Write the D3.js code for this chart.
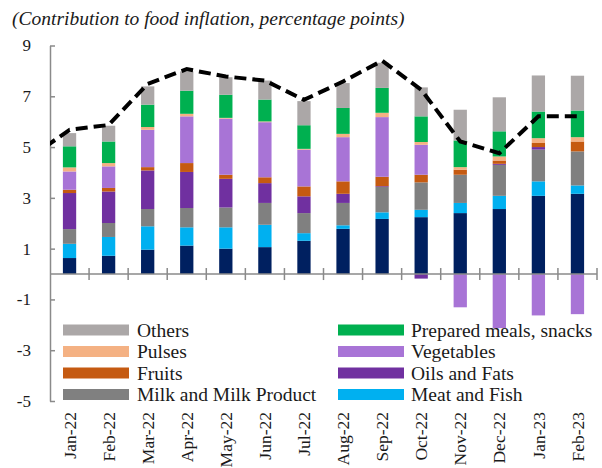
<!DOCTYPE html>
<meta charset="utf-8">
<style>
  body { margin: 0; background: #fff; }
  text { font-family: "Liberation Serif", "DejaVu Serif", serif; fill: #1a1a1a; }
</style>
<script src="https://d3js.org/d3.v7.min.js"></script>
<div id="my_dataviz"></div>
<script>

  // months on the x axis
  const months = ["Jan-22", "Feb-22", "Mar-22", "Apr-22", "May-22", "Jun-22", "Jul-22",
    "Aug-22", "Sep-22", "Oct-22", "Nov-22", "Dec-22", "Jan-23", "Feb-23"];

  // contributions, percentage points (stack order, bottom to top)
  const cereals    = [0.63, 0.72, 0.96, 1.12, 1.00, 1.06, 1.31, 1.78, 2.17, 2.24, 2.40, 2.56, 3.08, 3.16];
  const meatFish   = [0.56, 0.74, 0.92, 0.72, 0.84, 0.88, 0.30, 0.14, 0.26, 0.29, 0.40, 0.52, 0.57, 0.33];
  const milk       = [0.58, 0.55, 0.68, 0.76, 0.78, 0.86, 0.79, 0.88, 1.00, 1.08, 1.11, 1.22, 1.25, 1.34];
  const oilsFats   = [1.42, 1.24, 1.52, 1.42, 1.13, 0.78, 0.66, 0.36, 0.03, -0.18, 0.00, 0.04, 0.10, 0.00];
  const fruits     = [0.13, 0.14, 0.13, 0.35, 0.16, 0.23, 0.39, 0.49, 0.37, 0.30, 0.20, 0.13, 0.16, 0.39];
  const vegetables = [0.72, 0.85, 1.47, 1.84, 2.21, 2.17, 1.45, 1.74, 2.35, 1.18, -1.31, -2.13, -1.63, -1.58];
  const pulses     = [0.16, 0.13, 0.11, 0.10, 0.03, 0.03, 0.03, 0.13, 0.17, 0.11, 0.10, 0.16, 0.19, 0.17];
  const prepared   = [0.83, 0.85, 0.88, 0.91, 0.91, 0.86, 0.93, 1.02, 0.98, 1.01, 1.05, 0.99, 1.05, 1.05];
  const others     = [0.52, 0.62, 0.72, 0.76, 0.69, 0.75, 0.95, 0.98, 0.99, 1.14, 1.21, 1.34, 1.42, 1.37];

  // food inflation (dashed line); the line starts from Dec-21, cut off at the axis
  const inflationDec21 = 4.6;
  const inflation = [5.68, 5.87, 7.49, 8.07, 7.78, 7.62, 6.86, 7.58, 8.40, 7.26, 5.22, 4.76, 6.21, 6.21];

  const yTicks = [-5, -3, -1, 1, 3, 5, 7, 9];

  const seriesNames = ["Cereals", "Meat and Fish", "Milk and Milk Product", "Oils and Fats", "Fruits",
    "Vegetables", "Pulses", "Prepared meals, snacks", "Others"];
  const seriesValues = [cereals, meatFish, milk, oilsFats, fruits, vegetables, pulses, prepared, others];
  const colors = ["#002060", "#00B0F0", "#808080", "#7030A0", "#C55A11", "#A874D6", "#F4B183", "#00B050", "#ABA7A7"];

  // legend in two columns, as in the source (cereals is not listed)
  const legendLeft = ["Others", "Pulses", "Fruits", "Milk and Milk Product"];
  const legendRight = ["Prepared meals, snacks", "Vegetables", "Oils and Fats", "Meat and Fish"];

  const W = 602, H = 468;
  const svg = d3.select("#my_dataviz")
    .append("svg")
    .attr("width", W)
    .attr("height", H);

  const x = d3.scaleBand()
    .domain(months)
    .range([50, 597])
    .paddingInner(0.66)
    .paddingOuter(0.33);

  const y = d3.scaleLinear()
    .domain([-5, 9])
    .range([401, 45.5]);

  const color = d3.scaleOrdinal().domain(seriesNames).range(colors);

  // build rows for the stack
  const table = months.map((m, i) => {
    const row = { month: m };
    seriesNames.forEach((s, j) => { row[s] = seriesValues[j][i]; });
    return row;
  });

  const stacked = d3.stack()
    .keys(seriesNames)
    .offset(d3.stackOffsetDiverging)(table);

  // title
  svg.append("text")
    .attr("x", 12)
    .attr("y", 25)
    .style("font-style", "italic")
    .style("font-size", "19.5px")
    .text("(Contribution to food inflation, percentage points)");

  // bars
  svg.append("g")
    .selectAll("g")
    .data(stacked)
    .join("g")
    .attr("fill", d => color(d.key))
    .selectAll("rect")
    .data(d => d)
    .join("rect")
    .attr("x", d => x(d.data.month))
    .attr("width", x.bandwidth())
    .attr("y", d => y(Math.max(d[0], d[1])))
    .attr("height", d => Math.abs(y(d[0]) - y(d[1])));

  // y axis
  const yAxis = svg.append("g")
    .attr("transform", "translate(50,0)")
    .call(d3.axisLeft(y).tickValues(yTicks).tickFormat(d => String(d))
      .tickSize(-5).tickPadding(19).tickSizeOuter(0));
  yAxis.select(".domain").attr("stroke", "#8a8a8a").attr("stroke-width", 1.5);
  yAxis.selectAll(".tick line").attr("stroke", "#8a8a8a").attr("stroke-width", 1.5);
  yAxis.selectAll(".tick text")
    .style("font-size", "17px")
    .style("font-family", "'Liberation Serif', serif")
    .attr("fill", "#1a1a1a");

  // x axis along zero
  const y0 = y(0);
  svg.append("line")
    .attr("x1", x.range()[0]).attr("x2", x.range()[1])
    .attr("y1", y0).attr("y2", y0)
    .attr("stroke", "#8a8a8a").attr("stroke-width", 1.5);

  svg.append("g")
    .selectAll("line")
    .data(months)
    .join("line")
    .attr("x1", d => x(d) + x.bandwidth() + (x.step() - x.bandwidth()) / 2)
    .attr("x2", d => x(d) + x.bandwidth() + (x.step() - x.bandwidth()) / 2)
    .attr("y1", y0 - 6)
    .attr("y2", y0 + 6)
    .attr("stroke", "#8a8a8a")
    .attr("stroke-width", 1.5);

  // month labels
  svg.append("g")
    .selectAll("text")
    .data(months)
    .join("text")
    .attr("transform", d => `translate(${x(d) + x.bandwidth() / 2},${y(-5) + 11}) rotate(-90)`)
    .attr("text-anchor", "end")
    .attr("dy", "0.35em")
    .style("font-size", "17.5px")
    .text(d => d);

  // dashed inflation line, clipped at the plot's left edge
  svg.append("clipPath")
    .attr("id", "plot-clip")
    .append("rect")
    .attr("x", 50).attr("y", 0)
    .attr("width", 560).attr("height", H);

  const linePts = [[x(months[0]) + x.bandwidth() / 2 - x.step(), inflationDec21]]
    .concat(months.map((m, i) => [x(m) + x.bandwidth() / 2, inflation[i]]));

  svg.append("path")
    .datum(linePts)
    .attr("clip-path", "url(#plot-clip)")
    .attr("fill", "none")
    .attr("stroke", "#000")
    .attr("stroke-width", 4)
    .attr("stroke-dasharray", "12,6")
    .attr("d", d3.line()
      .x(d => d[0])
      .y(d => y(d[1])));

  // legend
  const legendRows = [330, 351.5, 373, 394.5];
  function drawLegend(names, swatchX, textX) {
    const g = svg.append("g");
    g.selectAll("rect")
      .data(names)
      .join("rect")
      .attr("x", swatchX)
      .attr("y", (d, i) => legendRows[i] - 5.5)
      .attr("width", 66)
      .attr("height", 11)
      .attr("fill", d => color(d));
    g.selectAll("text")
      .data(names)
      .join("text")
      .attr("x", textX)
      .attr("y", (d, i) => legendRows[i])
      .attr("dy", "0.35em")
      .style("font-size", "19.5px")
      .text(d => d);
  }
  drawLegend(legendLeft, 63, 137);
  drawLegend(legendRight, 338, 411);

</script>
